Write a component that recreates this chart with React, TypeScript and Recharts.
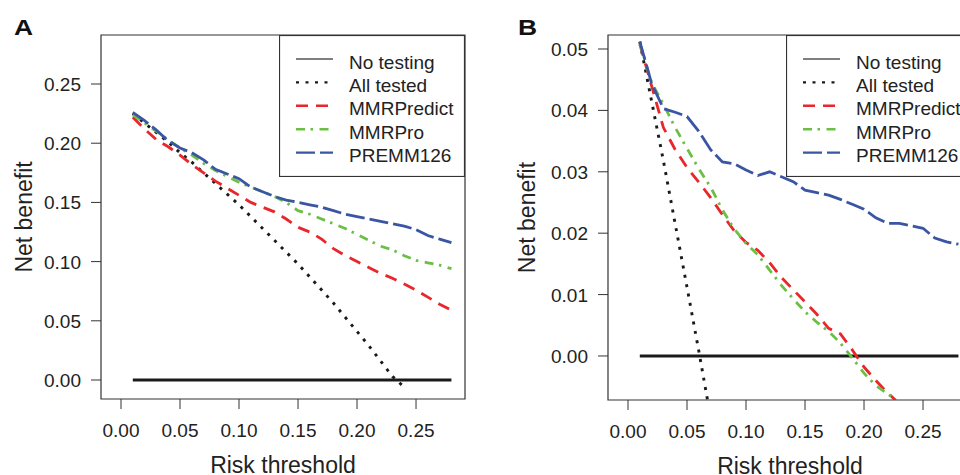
import { LineChart, Line, XAxis, YAxis, ReferenceArea, Legend } from 'recharts';

const FONT = '"Liberation Sans", Arial, Helvetica, sans-serif';
const TEXT = '#222';
const AXIS = '#333';

const thresholds = [
  0.01, 0.02, 0.03, 0.04, 0.05, 0.06, 0.07, 0.08, 0.09, 0.1, 0.11, 0.12, 0.13, 0.14,
  0.15, 0.16, 0.17, 0.18, 0.19, 0.2, 0.21, 0.22, 0.23, 0.24, 0.25, 0.26, 0.27, 0.28,
];

const xTicks = [0, 0.05, 0.1, 0.15, 0.2, 0.25];
const aYTicks = [0, 0.05, 0.1, 0.15, 0.2, 0.25];
const bYTicks = [0, 0.01, 0.02, 0.03, 0.04, 0.05];

// panel A
const aNoTesting = [0, 0, 0, 0, 0, 0, 0, 0, 0, 0, 0, 0, 0, 0, 0, 0, 0, 0, 0, 0, 0, 0, 0, 0, 0, 0, 0, 0];
const aAllTested = [
  0.225, 0.217, 0.209, 0.201, 0.192, 0.184, 0.175, 0.166, 0.157, 0.148, 0.138, 0.128,
  0.118, 0.108, 0.098, 0.087, 0.076, 0.065, 0.053, 0.041, 0.029, 0.016, 0.003, -0.006,
];
const aMmrPredict = [
  0.222, 0.212, 0.203, 0.197, 0.19, 0.182, 0.175, 0.168, 0.162, 0.156, 0.15, 0.146, 0.142, 0.136,
  0.129, 0.125, 0.119, 0.111, 0.105, 0.1, 0.095, 0.09, 0.086, 0.081, 0.076, 0.07, 0.064, 0.059,
];
const aMmrPro = [
  0.224, 0.217, 0.21, 0.203, 0.196, 0.19, 0.183, 0.177, 0.172, 0.167, 0.163, 0.159, 0.155, 0.15,
  0.143, 0.14, 0.136, 0.132, 0.128, 0.123, 0.118, 0.113, 0.11, 0.105, 0.101, 0.099, 0.097, 0.094,
];
const aPremm126 = [
  0.226, 0.219, 0.211, 0.202, 0.196, 0.192, 0.186, 0.178, 0.174, 0.17, 0.163, 0.159, 0.155, 0.152,
  0.15, 0.148, 0.146, 0.143, 0.14, 0.138, 0.136, 0.134, 0.132, 0.13, 0.127, 0.122, 0.119, 0.116,
];

// panel B
const bNoTesting = [0, 0, 0, 0, 0, 0, 0, 0, 0, 0, 0, 0, 0, 0, 0, 0, 0, 0, 0, 0, 0, 0, 0, 0, 0, 0, 0, 0];
const bAllTested = [0.0512, 0.0415, 0.0318, 0.0215, 0.0112, 0.0008, -0.01];
const bMmrPredict = [
  0.0508, 0.044, 0.0372, 0.0336, 0.0307, 0.0283, 0.0258, 0.023, 0.0204, 0.0185, 0.0172, 0.0152,
  0.0128, 0.0108, 0.0088, 0.0068, 0.0045, 0.0036, 0.001, -0.0018, -0.004, -0.006, -0.0078,
];
const bMmrPro = [
  0.051, 0.0445, 0.041, 0.0372, 0.0338, 0.0305, 0.0275, 0.0238, 0.0207, 0.0183, 0.0165, 0.014,
  0.0115, 0.0093, 0.0072, 0.0055, 0.004, 0.0021, -0.0003, -0.0028, -0.0048, -0.0062, -0.0075,
];
const bPremm126 = [
  0.0512, 0.0444, 0.0403, 0.0397, 0.039, 0.0366, 0.0336, 0.0316, 0.0313, 0.0303, 0.0294, 0.03,
  0.0292, 0.0284, 0.027, 0.0266, 0.0262, 0.0255, 0.0247, 0.0239, 0.0225, 0.0216, 0.0216, 0.0212,
  0.0208, 0.0192, 0.0186, 0.0182,
];

const X_DOMAIN: [number, number] = [-0.01695, 0.2915];
const A_Y_DOMAIN: [number, number] = [-0.01605, 0.2914];
const B_Y_DOMAIN: [number, number] = [-0.00717, 0.05228];

const SERIES = [
  { key: 'noTesting', name: 'No testing', color: '#1a1a1a', width: 2.8, dash: undefined, legendColor: '#555', legendWidth: 1.3 },
  { key: 'allTested', name: 'All tested', color: '#1a1a1a', width: 2.9, dash: '3 6.5' },
  { key: 'mmrPredict', name: 'MMRPredict', color: '#e8262b', width: 2.8, dash: '12 8' },
  { key: 'mmrPro', name: 'MMRPro', color: '#6cbf45', width: 2.8, dash: '9 5.5 2.5 6.5' },
  { key: 'premm126', name: 'PREMM126', color: '#3a55a4', width: 2.8, dash: '19 5' },
];

type Values = { noTesting: number[]; allTested: number[]; mmrPredict: number[]; mmrPro: number[]; premm126: number[] };

const buildRows = (v: Values) =>
  thresholds.map((x, i) => ({
    x,
    noTesting: v.noTesting[i],
    allTested: v.allTested[i],
    mmrPredict: v.mmrPredict[i],
    mmrPro: v.mmrPro[i],
    premm126: v.premm126[i],
  }));

const rowsA = buildRows({ noTesting: aNoTesting, allTested: aAllTested, mmrPredict: aMmrPredict, mmrPro: aMmrPro, premm126: aPremm126 });
const rowsB = buildRows({ noTesting: bNoTesting, allTested: bAllTested, mmrPredict: bMmrPredict, mmrPro: bMmrPro, premm126: bPremm126 });

const XTick = (props: any) => (
  <text x={props.x} y={props.y} dy={18} textAnchor="middle" fontSize={19} fill={TEXT} fontFamily={FONT}>
    {Number(props.payload.value).toFixed(2)}
  </text>
);

const YTick = (props: any) => (
  <text x={props.x} y={props.y} dy={7} textAnchor="end" fontSize={19} fill={TEXT} fontFamily={FONT}>
    {Number(props.payload.value).toFixed(2)}
  </text>
);

const XTitle = (props: any) => {
  const vb = props.viewBox;
  return (
    <text x={vb.x + vb.width / 2} y={vb.y + 74} textAnchor="middle" fontSize={23} fill={TEXT} fontFamily={FONT}>
      Risk threshold
    </text>
  );
};

const yTitle = (gap: number) => (props: any) => {
  const vb = props.viewBox;
  const x = vb.x + vb.width - gap;
  const y = vb.y + vb.height / 2;
  return (
    <text x={x} y={y} transform={`rotate(-90 ${x} ${y})`} textAnchor="middle" fontSize={23} fill={TEXT} fontFamily={FONT}>
      Net benefit
    </text>
  );
};

const LegendBox = () => (
  <svg width={186} height={142} style={{ display: 'block' }}>
    <rect x={0.5} y={0.5} width={185} height={141} fill="#fff" stroke={AXIS} strokeWidth={1.2} />
    {SERIES.map((s, i) => {
      const y = 24 + i * 23.4;
      return (
        <g key={s.key}>
          <line x1={17} x2={54} y1={y} y2={y} stroke={s.legendColor ?? s.color} strokeWidth={s.legendWidth ?? 2.4} strokeDasharray={s.dash} />
          <text x={70} y={y + 9.5} fontSize={19} fill={TEXT} fontFamily={FONT}>
            {s.name}
          </text>
        </g>
      );
    })}
  </svg>
);

interface PanelProps {
  rows: ReturnType<typeof buildRows>;
  yDomain: [number, number];
  yTicks: number[];
  width: number;
  margin: { top: number; right: number; bottom: number; left: number };
  titleGap: number;
  legendLeft: number;
}

function Panel({ rows, yDomain, yTicks, width, margin, titleGap, legendLeft }: PanelProps) {
  return (
    <LineChart width={width} height={475} data={rows} margin={margin}>
      <XAxis
        type="number"
        dataKey="x"
        domain={X_DOMAIN}
        ticks={xTicks}
        allowDataOverflow
        interval={0}
        height={70}
        tickSize={10}
        tickMargin={10}
        axisLine={false}
        tickLine={{ stroke: AXIS }}
        tick={XTick}
        label={{ content: XTitle }}
      />
      <YAxis
        type="number"
        domain={yDomain}
        ticks={yTicks}
        allowDataOverflow
        interval={0}
        width={60}
        tickSize={10}
        tickMargin={10}
        axisLine={false}
        tickLine={{ stroke: AXIS }}
        tick={YTick}
        label={{ content: yTitle(titleGap) }}
      />
      <ReferenceArea
        x1={X_DOMAIN[0]}
        x2={X_DOMAIN[1]}
        y1={yDomain[0]}
        y2={yDomain[1]}
        fill="none"
        stroke={AXIS}
        strokeWidth={1.2}
        ifOverflow="visible"
      />
      {SERIES.map((s) => (
        <Line
          key={s.key}
          dataKey={s.key}
          name={s.name}
          type="linear"
          stroke={s.color}
          strokeWidth={s.width}
          strokeDasharray={s.dash}
          dot={false}
          activeDot={false}
          isAnimationActive={false}
        />
      ))}
      <Legend verticalAlign="middle" wrapperStyle={{ left: legendLeft, top: 35, width: 186, height: 142 }} content={LegendBox} />
    </LineChart>
  );
}

export default function App() {
  return (
    <div style={{ position: 'absolute', left: 0, top: 0, width: 960, height: 475, overflow: 'hidden', background: '#fff', fontFamily: FONT }}>
      <div style={{ position: 'absolute', left: 0, top: 0 }}>
        <Panel
          rows={rowsA}
          yDomain={A_Y_DOMAIN}
          yTicks={aYTicks}
          width={480}
          margin={{ top: 35, right: 15, bottom: 6, left: 41 }}
          titleGap={68.7}
          legendLeft={279}
        />
      </div>
      <div style={{ position: 'absolute', left: 480, top: 0 }}>
        <Panel
          rows={rowsB}
          yDomain={B_Y_DOMAIN}
          yTicks={bYTicks}
          width={500}
          margin={{ top: 35, right: 8, bottom: 5, left: 68 }}
          titleGap={73}
          legendLeft={306}
        />
      </div>
      <svg width={960} height={475} style={{ position: 'absolute', left: 0, top: 0, pointerEvents: 'none' }}>
        <text transform="translate(14 35) scale(1.2 1)" fontSize={22} fontWeight={700} fill="#111" fontFamily={FONT}>A</text>
        <text transform="translate(518 34.5) scale(1.2 1)" fontSize={22} fontWeight={700} fill="#111" fontFamily={FONT}>B</text>
      </svg>
    </div>
  );
}
